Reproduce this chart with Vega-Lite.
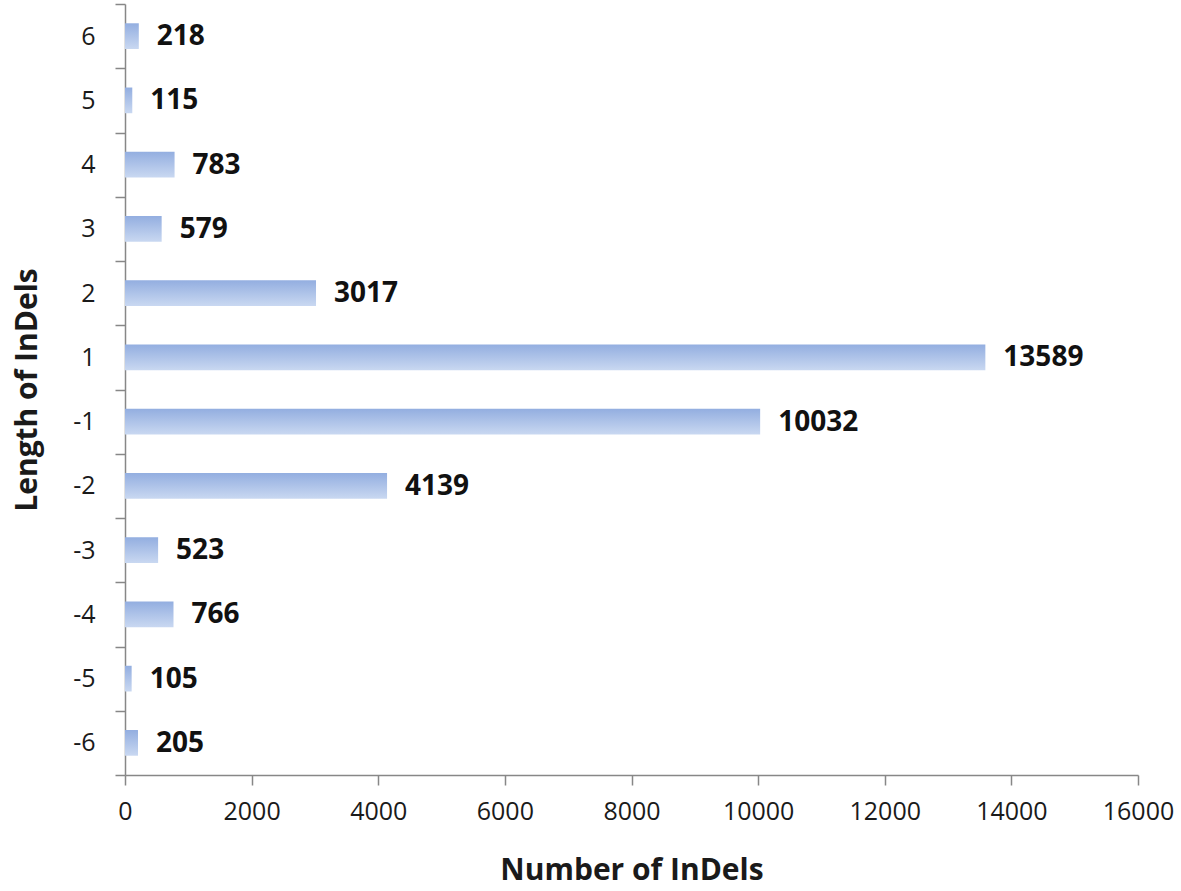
{
  "$schema": "https://vega.github.io/schema/vega-lite/v6.json",
  "width": 1013,
  "height": 771,
  "autosize": {"type": "none"},
  "padding": {"left": 125, "top": 4, "right": 43, "bottom": 116},
  "background": "white",
  "config": {
    "view": {"stroke": null},
    "font": "Open Sans",
    "axis": {
      "domainColor": "#878787",
      "tickColor": "#878787",
      "domainWidth": 1.5,
      "tickWidth": 1.5,
      "tickSize": 10,
      "grid": false,
      "labelFont": "Open Sans",
      "labelFontSize": 25,
      "labelColor": "#1a1a1a",
      "titleFont": "Open Sans",
      "titleFontSize": 30,
      "titleFontWeight": "bold",
      "titleColor": "#1a1a1a"
    }
  },
  "data": {
    "values": [
      {"length": "6", "count": 218},
      {"length": "5", "count": 115},
      {"length": "4", "count": 783},
      {"length": "3", "count": 579},
      {"length": "2", "count": 3017},
      {"length": "1", "count": 13589},
      {"length": "-1", "count": 10032},
      {"length": "-2", "count": 4139},
      {"length": "-3", "count": 523},
      {"length": "-4", "count": 766},
      {"length": "-5", "count": 105},
      {"length": "-6", "count": 205}
    ]
  },
  "encoding": {
    "y": {
      "field": "length",
      "type": "ordinal",
      "sort": ["6", "5", "4", "3", "2", "1", "-1", "-2", "-3", "-4", "-5", "-6"],
      "scale": {"paddingInner": 0, "paddingOuter": 0},
      "axis": {
        "title": "Length of InDels",
        "tickBand": "extent",
        "labelPadding": 20,
        "titlePadding": 30
      }
    },
    "x": {
      "field": "count",
      "type": "quantitative",
      "scale": {"domain": [0, 16000], "nice": false},
      "axis": {
        "title": "Number of InDels",
        "values": [0, 2000, 4000, 6000, 8000, 10000, 12000, 14000, 16000],
        "format": "d",
        "labelFlush": false,
        "labelOverlap": false,
        "labelPadding": 14,
        "titlePadding": 31
      }
    }
  },
  "layer": [
    {
      "mark": {
        "type": "bar",
        "height": {"band": 0.4},
        "color": {
          "gradient": "linear",
          "x1": 0, "y1": 0, "x2": 0, "y2": 1,
          "stops": [
            {"offset": 0, "color": "#93AEE0"},
            {"offset": 1, "color": "#C9D8F1"}
          ]
        }
      }
    },
    {
      "mark": {
        "type": "text",
        "align": "left",
        "baseline": "middle",
        "dx": 18,
        "dy": 1,
        "font": "Open Sans",
        "fontSize": 28,
        "fontWeight": "bold",
        "color": "#111111"
      },
      "encoding": {"text": {"field": "count", "type": "quantitative", "format": "d"}}
    }
  ]
}
